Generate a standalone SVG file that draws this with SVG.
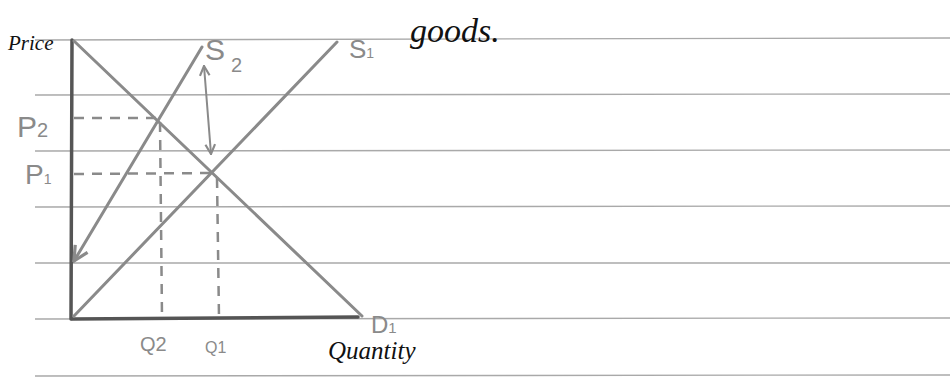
<svg xmlns="http://www.w3.org/2000/svg" width="950" height="381" viewBox="0 0 950 381">
<style>
.rule{stroke:#a9a9a9;stroke-width:1.3;fill:none}
.curve{stroke:#8a8a8a;stroke-width:3;fill:none;stroke-linecap:round}
.axis{stroke:#555;stroke-width:3.5;fill:none;stroke-linecap:round}
.dash{stroke:#8a8a8a;stroke-width:2.5;fill:none;stroke-dasharray:10 8}
.ink{font-family:"Liberation Serif",serif;font-style:italic;fill:#111}
.lbl{font-family:"Liberation Sans",sans-serif;fill:#8a8a8a}
</style>
<defs>
<marker id="ah" viewBox="0 0 10 10" refX="9" refY="5" markerWidth="6" markerHeight="6" orient="auto-start-reverse">
<path d="M1,1 L9,5 L1,9" fill="none" stroke="#8a8a8a" stroke-width="1.8"/>
</marker>
</defs>
<rect width="950" height="381" fill="#fff"/>
<g id="paper">
<line class="rule" x1="35" y1="40" x2="950" y2="38"/>
<line class="rule" x1="35" y1="95" x2="950" y2="94"/>
<line class="rule" x1="35" y1="151" x2="950" y2="150"/>
<line class="rule" x1="35" y1="207" x2="950" y2="206"/>
<line class="rule" x1="35" y1="263" x2="950" y2="263"/>
<line class="rule" x1="35" y1="319" x2="950" y2="318"/>
<line class="rule" x1="35" y1="376" x2="950" y2="375"/>
</g>
<g id="connectors">
<line class="dash" x1="74" y1="118" x2="160" y2="118"/>
<line class="dash" x1="160" y1="122" x2="162" y2="318"/>
<line class="dash" x1="74" y1="174" x2="216" y2="173"/>
<line class="dash" x1="217" y1="178" x2="219" y2="318"/>
<line class="curve" x1="204" y1="66" x2="211" y2="154" marker-start="url(#ah)" marker-end="url(#ah)" style="stroke-width:2"/>
</g>
<g id="axes">
<line class="axis" x1="72" y1="40" x2="71" y2="319"/>
<line class="axis" x1="72" y1="319" x2="358" y2="317"/>
</g>
<g id="D1">
<line class="curve" x1="74" y1="41" x2="362" y2="316"/>
<text class="lbl" x="371" y="333" font-size="24">D<tspan font-size="15">1</tspan></text>
</g>
<g id="S1">
<line class="curve" x1="74" y1="316" x2="337" y2="42"/>
<text class="lbl" x="349" y="58" font-size="26" fill="#777">S<tspan font-size="14">1</tspan></text>
</g>
<g id="S2">
<line class="curve" x1="74" y1="261" x2="202" y2="47" marker-start="url(#ah)"/>
<text class="lbl" x="205" y="60" font-size="30">S</text>
<text class="lbl" x="231" y="72" font-size="20">2</text>
</g>
<g id="labels">
<text class="ink" x="8" y="50" font-size="21">Price</text>
<text class="lbl" x="17" y="137" font-size="30">P<tspan font-size="20">2</tspan></text>
<text class="lbl" x="25" y="184" font-size="28" fill="#666">P<tspan font-size="14">1</tspan></text>
<text class="lbl" x="140" y="351" font-size="20">Q2</text>
<text class="lbl" x="205" y="353" font-size="16">Q1</text>
<text class="ink" x="328" y="359" font-size="25">Quantity</text>
<text class="ink" x="410" y="42" font-size="34">goods.</text>
</g>
</svg>
